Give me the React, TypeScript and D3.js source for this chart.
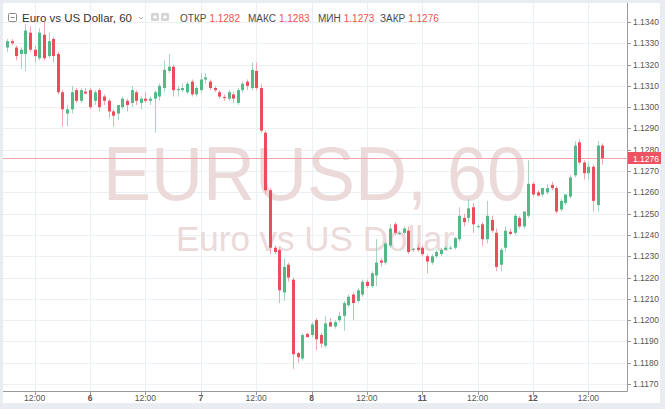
import * as d3 from "d3";
import { useEffect, useRef } from "react";

// EURUSD hourly candles (index 0 = 5th 06:00)
const opens = [
  1.1328, 1.1331, 1.1328, 1.1325, 1.1325, 1.1335, 1.1327, 1.1323, 1.1334, 1.1324,
  1.1332, 1.1325, 1.1307, 1.1297, 1.1299, 1.1308, 1.1303, 1.13073, 1.1308, 1.1303,
  1.1308, 1.1305, 1.1303, 1.1298, 1.1297, 1.1300, 1.1303, 1.1302, 1.1307, 1.1302,
  1.1304, 1.1303, 1.1304, 1.1305, 1.1309, 1.1317, 1.1319, 1.1308, 1.1308, 1.1307,
  1.1312, 1.1306, 1.1308, 1.1313, 1.1312, 1.1309, 1.1307, 1.13048, 1.1304, 1.1306,
  1.1302, 1.1308, 1.1312, 1.1309, 1.1317, 1.1309, 1.1288, 1.1261, 1.1234, 1.1233,
  1.1213, 1.1226, 1.1219, 1.11845, 1.1182, 1.11935, 1.1193, 1.1200, 1.1193, 1.1188,
  1.1199, 1.1197, 1.1200, 1.1202, 1.1207, 1.1212, 1.1209, 1.1212, 1.1218, 1.1216,
  1.1221, 1.1228, 1.1227, 1.1235, 1.1245, 1.12405, 1.1241, 1.1242, 1.1233, 1.1234,
  1.1234, 1.1230, 1.1227, 1.1230, 1.1231, 1.1233, 1.1234, 1.1234, 1.1238, 1.1248,
  1.1248, 1.1253, 1.12437, 1.1245, 1.1238, 1.1247, 1.1241, 1.1226, 1.1234, 1.12415,
  1.1241, 1.1248, 1.1244, 1.1249, 1.1264, 1.1260, 1.1259, 1.1260, 1.12635, 1.1262,
  1.1252, 1.1255, 1.1258, 1.1268, 1.12835, 1.1274, 1.1269, 1.1272, 1.1254, 1.1282,
];
const highs = [
  1.1332, 1.1332, 1.1329, 1.1328, 1.1339, 1.1338, 1.1329, 1.1337, 1.1340, 1.1335,
  1.1333, 1.1326, 1.1308, 1.1301, 1.1310, 1.1309, 1.1309, 1.1309, 1.1309, 1.1308,
  1.1309, 1.1306, 1.1304, 1.1299, 1.1301, 1.1305, 1.1304, 1.1310, 1.1308, 1.1305,
  1.1307, 1.1305, 1.1308, 1.1311, 1.1322, 1.1325, 1.1320, 1.1310, 1.1311, 1.1312,
  1.1313, 1.1310, 1.1316, 1.1316, 1.1313, 1.1310, 1.1308, 1.1306, 1.1308, 1.1307,
  1.1309, 1.1312, 1.1313, 1.1321, 1.1321, 1.1311, 1.1289, 1.1262, 1.1235, 1.1234,
  1.1229, 1.1227, 1.1220, 1.1185, 1.1194, 1.1194, 1.1199, 1.1201, 1.1194, 1.1202,
  1.1201, 1.1200, 1.1204, 1.1209, 1.1212, 1.1213, 1.1215, 1.1219, 1.1219, 1.1223,
  1.1238, 1.1229, 1.1237, 1.1245, 1.1246, 1.1242, 1.1244, 1.1244, 1.1234, 1.1236,
  1.1235, 1.1231, 1.1231, 1.1233, 1.1234, 1.1235, 1.1235, 1.1239, 1.1253, 1.1250,
  1.1257, 1.1255, 1.1245, 1.1246, 1.1256, 1.1249, 1.1243, 1.1234, 1.1244, 1.1243,
  1.1250, 1.1249, 1.1251, 1.1275, 1.1265, 1.1261, 1.1262, 1.1264, 1.1265, 1.1263,
  1.1257, 1.1259, 1.1268, 1.1284, 1.1285, 1.1275, 1.1274, 1.1273, 1.1284, 1.1283,
];
const lows = [
  1.1326, 1.1329, 1.1322, 1.1318, 1.1317, 1.1326, 1.1321, 1.1322, 1.1322, 1.1323,
  1.1321, 1.1306, 1.1291, 1.1291, 1.1297, 1.1302, 1.1302, 1.1306, 1.1299, 1.1301,
  1.1298, 1.1301, 1.1295, 1.1291, 1.1294, 1.1299, 1.1298, 1.1300, 1.1301, 1.1299,
  1.1302, 1.1301, 1.1288, 1.1303, 1.1307, 1.1316, 1.1305, 1.1305, 1.1307, 1.1306,
  1.1305, 1.1305, 1.1307, 1.1311, 1.1308, 1.1307, 1.1304, 1.1303, 1.1303, 1.1302,
  1.1301, 1.1307, 1.1308, 1.1308, 1.1308, 1.1288, 1.1259, 1.1231, 1.1231, 1.1208,
  1.1209, 1.1218, 1.1177, 1.1180, 1.1181, 1.1192, 1.1192, 1.1186, 1.1187, 1.1187,
  1.1197, 1.1196, 1.1199, 1.1195, 1.1206, 1.1200, 1.1208, 1.1211, 1.1215, 1.1215,
  1.1216, 1.1225, 1.1226, 1.1234, 1.1240, 1.1240, 1.1240, 1.1231, 1.1232, 1.1232,
  1.1230, 1.1222, 1.1226, 1.1229, 1.1230, 1.1233, 1.1233, 1.1233, 1.1237, 1.1244,
  1.1246, 1.1241, 1.1243, 1.1235, 1.1236, 1.1241, 1.1223, 1.1223, 1.1232, 1.1240,
  1.1240, 1.1243, 1.1243, 1.1248, 1.1258, 1.1258, 1.1258, 1.1259, 1.1261, 1.1250,
  1.1251, 1.1254, 1.1257, 1.1267, 1.1273, 1.1266, 1.1266, 1.1251, 1.1251, 1.1273,
];
const closes = [
  1.1331, 1.1330, 1.1324, 1.1327, 1.1336, 1.1327, 1.1324, 1.1335, 1.1323, 1.1331,
  1.1324, 1.1307, 1.1299, 1.1299, 1.1307, 1.1303, 1.1308, 1.13064, 1.1300, 1.1307,
  1.1300, 1.1303, 1.1298, 1.1296, 1.1301, 1.1304, 1.1301, 1.1308, 1.1303, 1.1304,
  1.1303, 1.1304, 1.1307, 1.1310, 1.13175, 1.1319, 1.1308, 1.13085, 1.1309, 1.1311,
  1.1306, 1.1309, 1.1313, 1.1314, 1.1309, 1.1308, 1.1305, 1.13045, 1.1307, 1.1304,
  1.1308, 1.1311, 1.1310, 1.13175, 1.1309, 1.1289, 1.1261, 1.1234, 1.1232, 1.1214,
  1.1225, 1.1220, 1.1184, 1.11826, 1.1193, 1.1192, 1.1198, 1.1191, 1.1189, 1.11985,
  1.1197, 1.1199, 1.1202, 1.1208, 1.1211, 1.1208, 1.1214, 1.1218, 1.1216, 1.1222,
  1.1227, 1.1227, 1.1236, 1.1243, 1.1241, 1.1241, 1.1243, 1.1232, 1.12335, 1.1233,
  1.1231, 1.12275, 1.1230, 1.1232, 1.1233, 1.1234, 1.1234, 1.12385, 1.1249, 1.1246,
  1.12525, 1.1245, 1.12441, 1.1238, 1.1249, 1.1242, 1.1225, 1.1233, 1.1242, 1.12405,
  1.1249, 1.1244, 1.1251, 1.1264, 1.1259, 1.12585, 1.1262, 1.1262, 1.1262, 1.1251,
  1.1256, 1.1259, 1.1267, 1.1282, 1.1274, 1.1269, 1.1272, 1.1256, 1.1282, 1.1276,
];

const priceTicks = [
  1.134, 1.133, 1.132, 1.131, 1.13, 1.129, 1.128, 1.127, 1.126,
  1.125, 1.124, 1.123, 1.122, 1.121, 1.12, 1.119, 1.118, 1.117,
];
const timeLabels = ["12:00", "6", "12:00", "7", "12:00", "8", "12:00", "11", "12:00", "12", "12:00"];
const timeLabelIdx = [6, 18, 30, 42, 54, 66, 78, 90, 102, 114, 126];

const lastPrice = 1.1276;
const headerLabels = ["ОТКР", "МАКС", "МИН", "ЗАКР"];
const headerValues = ["1.1282", "1.1283", "1.1273", "1.1276"];

const W = 665;
const H = 409;
const UP = "#53b987";
const DOWN = "#eb4d5c";
const FONT = "'Liberation Sans', Arial, sans-serif";

export default function App() {
  const ref = useRef<SVGSVGElement | null>(null);

  useEffect(() => {
    const svg = d3.select(ref.current);
    svg.selectAll("*").remove();

    const left = 3, right = 627, top = 3, bottom = 391;

    const x = d3.scaleLinear().domain([0, closes.length - 1]).range([7, 602.3]);
    const y = d3.scaleLinear().domain([1.117, 1.134]).range([384, 22]);

    // frame
    svg.append("rect").attr("width", W).attr("height", H).attr("fill", "#e9ecf0");
    svg.append("rect").attr("x", 3).attr("y", 3).attr("width", 657).attr("height", 400).attr("fill", "#fff");

    // grid
    const grid = svg.append("g").attr("stroke", "#ebf0f5").attr("stroke-width", 1);
    priceTicks.forEach((p) => {
      const yy = Math.round(y(p)) + 0.5;
      grid.append("line").attr("x1", left).attr("x2", right).attr("y1", yy).attr("y2", yy);
    });
    timeLabelIdx.forEach((i) => {
      const xx = Math.round(x(i)) + 0.5;
      grid.append("line").attr("x1", xx).attr("x2", xx).attr("y1", top).attr("y2", bottom);
    });

    // watermark
    svg.append("text")
      .attr("x", 315).attr("y", 200)
      .attr("text-anchor", "middle")
      .attr("font-family", FONT).attr("font-size", 76)
      .attr("textLength", 424).attr("lengthAdjust", "spacingAndGlyphs")
      .attr("fill", "#ecdada")
      .text("EURUSD, 60");
    svg.append("text")
      .attr("x", 315).attr("y", 251)
      .attr("text-anchor", "middle")
      .attr("font-family", FONT).attr("font-size", 35)
      .attr("fill", "#ecdada")
      .text("Euro vs US Dollar");

    // last price line
    const ly = Math.round(y(lastPrice)) + 0.5;
    svg.append("line")
      .attr("x1", left).attr("x2", right).attr("y1", ly).attr("y2", ly)
      .attr("stroke", "#f2a3aa").attr("stroke-width", 1);

    // candles
    const g = svg.append("g");
    closes.forEach((c, i) => {
      const o = opens[i];
      const up = c >= o;
      const cx = Math.round(x(i)) + 0.5;
      g.append("line")
        .attr("x1", cx).attr("x2", cx)
        .attr("y1", y(highs[i])).attr("y2", y(lows[i]))
        .attr("stroke", up ? "#a4d6c2" : "#f4a7ae").attr("stroke-width", 1);
      const y0 = y(Math.max(o, c));
      const h = Math.max(1, Math.abs(y(o) - y(c)));
      g.append("rect")
        .attr("x", cx - 1.5).attr("y", y0).attr("width", 3).attr("height", h)
        .attr("fill", up ? UP : DOWN);
    });

    // axes
    const ax = svg.append("g").attr("stroke", "#9a9a9a").attr("stroke-width", 1);
    ax.append("line").attr("x1", right + 0.5).attr("x2", right + 0.5).attr("y1", top).attr("y2", bottom + 0.5);
    ax.append("line").attr("x1", left).attr("x2", right + 0.5).attr("y1", bottom + 0.5).attr("y2", bottom + 0.5);
    priceTicks.forEach((p) => {
      const yy = Math.round(y(p)) + 0.5;
      ax.append("line").attr("x1", right).attr("x2", right + 4).attr("y1", yy).attr("y2", yy);
    });
    timeLabelIdx.forEach((i) => {
      const xx = Math.round(x(i)) + 0.5;
      ax.append("line").attr("x1", xx).attr("x2", xx).attr("y1", bottom).attr("y2", bottom + 4);
    });

    // price labels
    const pl = svg.append("g").attr("font-family", FONT).attr("font-size", 8.5).attr("fill", "#555");
    priceTicks.forEach((p) => {
      pl.append("text").attr("x", 633).attr("y", y(p) + 3).text(p.toFixed(4));
    });

    // time labels
    const tl = svg.append("g").attr("font-family", FONT).attr("font-size", 8.5).attr("fill", "#555").attr("text-anchor", "middle");
    timeLabels.forEach((t, k) => {
      tl.append("text")
        .attr("x", x(timeLabelIdx[k])).attr("y", 401)
        .attr("font-weight", t.includes(":") ? "normal" : "bold")
        .text(t);
    });

    // last price tag
    svg.append("rect").attr("x", right + 1).attr("y", ly - 6.5).attr("width", 33).attr("height", 12).attr("fill", "#ef5361");
    svg.append("text")
      .attr("x", 633).attr("y", ly + 3)
      .attr("font-family", FONT).attr("font-size", 8.5).attr("fill", "#fff")
      .text(lastPrice.toFixed(4));

    // header
    const hd = svg.append("g").attr("font-family", FONT);
    hd.append("rect").attr("x", 8.5).attr("y", 13.5).attr("width", 8).attr("height", 8)
      .attr("fill", "none").attr("stroke", "#8a8a8a").attr("rx", 1);
    hd.append("line").attr("x1", 10.5).attr("x2", 14.5).attr("y1", 17.5).attr("y2", 17.5).attr("stroke", "#8a8a8a");
    hd.append("text").attr("x", 22).attr("y", 22).attr("font-size", 11.5).attr("fill", "#333")
      .text("Euro vs US Dollar, 60");
    hd.append("path").attr("d", "M139,17 L141,19 L143,17").attr("fill", "none").attr("stroke", "#b0b0b0");
    [151, 161].forEach((ix) => {
      hd.append("rect").attr("x", ix).attr("y", 13).attr("width", 8).attr("height", 8).attr("rx", 1.5).attr("fill", "#d4d4d4");
      hd.append("circle").attr("cx", ix + 4).attr("cy", 17).attr("r", 1.8).attr("fill", "#fff");
    });
    const labelX = [180, 248, 318, 380];
    headerLabels.forEach((lab, k) => {
      const t = hd.append("text").attr("x", labelX[k]).attr("y", 22).attr("font-size", 10);
      t.append("tspan").attr("fill", "#4a4a4a").text(lab);
      t.append("tspan").attr("dx", 3).attr("fill", "#ef5350").text(headerValues[k]);
    });
  }, []);

  return (
    <svg
      ref={ref}
      width={W}
      height={H}
      style={{ position: "absolute", left: 0, top: 0, display: "block" }}
    />
  );
}
